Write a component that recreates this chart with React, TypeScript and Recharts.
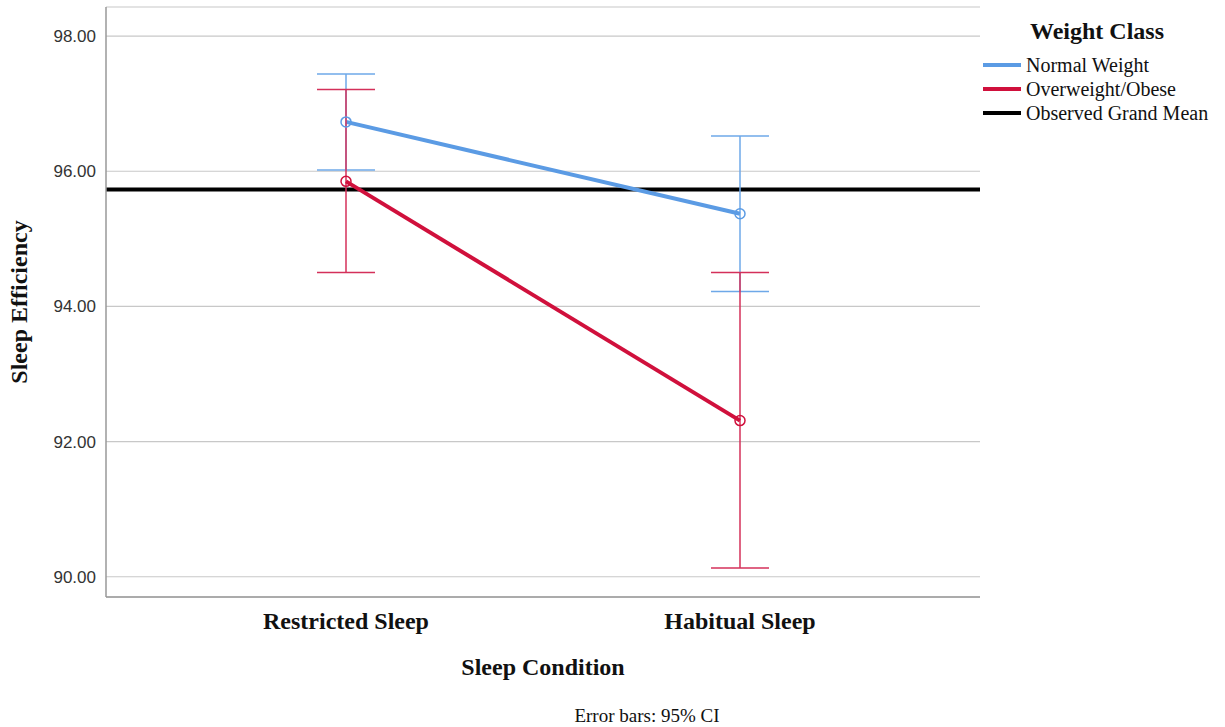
import * as React from "react"
import { LineChart, Line, XAxis, YAxis, CartesianGrid, ErrorBar, ReferenceLine, Label } from "recharts"

const conditions = ["Restricted Sleep", "Habitual Sleep"]
const normalMean = [96.73, 95.37]
const normalLow = [96.02, 94.22]
const normalHigh = [97.44, 96.52]
const overMean = [95.85, 92.31]
const overLow = [94.5, 90.13]
const overHigh = [97.21, 94.5]
const grandMean = 95.73
const yTicks = [90, 92, 94, 96, 98]

const BLUE = "#5b9be4"
const RED = "#d0103c"

const legendItems = [
  { name: "Normal Weight", color: BLUE },
  { name: "Overweight/Obese", color: RED },
  { name: "Observed Grand Mean", color: "#000000" },
]

const SERIF = "'Liberation Serif', 'Times New Roman', serif"
const SANS = "'Liberation Sans', Arial, sans-serif"

export default function App() {
  const data = conditions.map((condition, i) => ({
    condition,
    normal: normalMean[i],
    normalErr: [normalMean[i] - normalLow[i], normalHigh[i] - normalMean[i]],
    over: overMean[i],
    overErr: [overMean[i] - overLow[i], overHigh[i] - overMean[i]],
  }))

  return (
    <div style={{ position: "absolute", left: 0, top: 0, width: 1225, height: 727, background: "#fff" }}>
      <LineChart width={1225} height={727} data={data} margin={{ top: 7, right: 245, bottom: 70, left: 46 }}>
        <CartesianGrid vertical={false} stroke="#c8c8c8" strokeWidth={1.2} />
        <XAxis
          dataKey="condition"
          scale="point"
          padding={{ left: 240, right: 240 }}
          height={60}
          tickLine={false}
          tickMargin={9}
          axisLine={{ stroke: "#999", strokeWidth: 1.5 }}
          tick={{ fill: "#111", fontFamily: SERIF, fontWeight: 700, fontSize: 24 }}
        >
          <Label
            value="Sleep Condition"
            position="bottom"
            offset={1}
            style={{ fill: "#111", fontFamily: SERIF, fontWeight: 700, fontSize: 24 }}
          />
        </XAxis>
        <YAxis
          type="number"
          domain={[89.7, 98.43]}
          ticks={yTicks}
          allowDataOverflow
          width={60}
          tickLine={false}
          tickMargin={4}
          tickFormatter={(v: number) => v.toFixed(2)}
          axisLine={{ stroke: "#999", strokeWidth: 1.5 }}
          tick={{ fill: "#333", fontFamily: SANS, fontSize: 17 }}
        >
          <Label
            value="Sleep Efficiency"
            angle={-90}
            position="insideLeft"
            offset={-28}
            style={{ fill: "#111", fontFamily: SERIF, fontWeight: 700, fontSize: 24, textAnchor: "middle" }}
          />
        </YAxis>
        <ReferenceLine y={grandMean} stroke="#000" strokeWidth={4} />
        <Line
          dataKey="normal"
          stroke={BLUE}
          strokeWidth={4}
          dot={{ r: 5, fill: "none", stroke: BLUE, strokeWidth: 1.5 }}
          activeDot={false}
          isAnimationActive={false}
        >
          <ErrorBar dataKey="normalErr" direction="y" width={29} stroke="#6ea8e8" strokeWidth={1.5} isAnimationActive={false} />
        </Line>
        <Line
          dataKey="over"
          stroke={RED}
          strokeWidth={4}
          dot={{ r: 5, fill: "none", stroke: RED, strokeWidth: 1.5 }}
          activeDot={false}
          isAnimationActive={false}
        >
          <ErrorBar dataKey="overErr" direction="y" width={29} stroke="#d4305a" strokeWidth={1.5} isAnimationActive={false} />
        </Line>
      </LineChart>

      <div style={{ position: "absolute", left: 983, top: 14, fontFamily: SERIF, color: "#111" }}>
        <div style={{ fontWeight: 700, fontSize: 24, marginLeft: 47, lineHeight: "34px", marginBottom: 5 }}>Weight Class</div>
        {legendItems.map((item) => (
          <div key={item.name} style={{ display: "flex", alignItems: "center", height: 24, fontSize: 20 }}>
            <span style={{ display: "inline-block", width: 38, height: 4, background: item.color, marginRight: 5 }} />
            <span>{item.name}</span>
          </div>
        ))}
      </div>

      <div
        style={{
          position: "absolute",
          left: 0,
          width: 1294,
          top: 705,
          textAlign: "center",
          fontFamily: SERIF,
          fontSize: 19,
          color: "#111",
        }}
      >
        Error bars: 95% CI
      </div>
    </div>
  )
}
